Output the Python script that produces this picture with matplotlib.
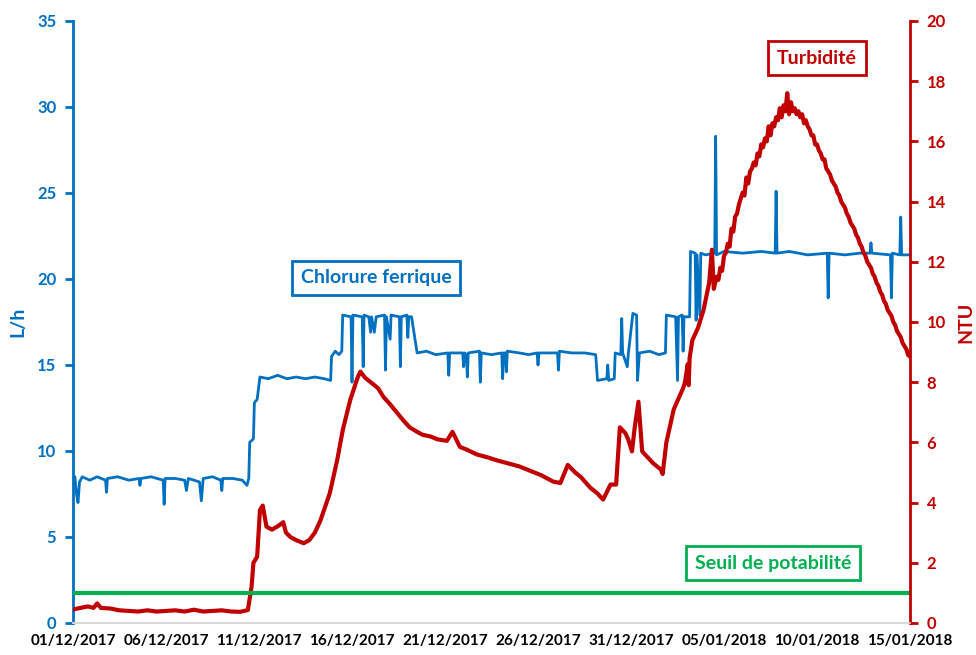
import pandas as pd
import matplotlib
matplotlib.use("Agg")
import matplotlib.pyplot as plt
import matplotlib.dates as mdates

plt.rcParams["font.family"] = ["Lato", "DejaVu Sans"]

BLUE = "#0070C0"
RED = "#C00000"
GREEN = "#00B050"

start = pd.Timestamp("2017-12-01")

# Chlorure ferrique (L/h): days since 01/12/2017 and values
blue_days = [0.00, 0.10, 0.20, 0.27, 0.35, 0.50, 0.90, 1.30, 1.75, 1.80, 1.85, 2.40, 3.00, 3.55, 3.60,
             3.65, 4.20, 4.85, 4.90, 4.95, 5.50, 6.00, 6.10, 6.20, 6.80, 6.90, 7.00, 7.50, 7.95, 8.00,
             8.05, 8.60, 9.10, 9.35, 9.45, 9.50, 9.70, 9.75, 9.90, 10.05, 10.50, 11.00, 11.50, 12.00,
             12.50, 13.00, 13.50, 13.85, 13.90, 14.10, 14.30, 14.45, 14.50, 14.95, 15.00, 15.05, 15.55,
             15.60, 15.65, 15.90, 16.00, 16.05, 16.20, 16.30, 16.75, 16.80, 16.85, 17.05, 17.10, 17.55,
             17.60, 17.65, 17.95, 18.00, 18.05, 18.20, 18.50, 19.00, 19.50, 20.15, 20.20, 20.25, 20.95,
             21.00, 21.05, 21.15, 21.20, 21.25, 21.85, 21.90, 21.95, 22.50, 23.05, 23.10, 23.15, 23.25,
             23.30, 23.35, 24.00, 24.50, 24.95, 25.00, 25.05, 26.05, 26.10, 26.15, 26.80, 27.50, 28.10,
             28.20, 28.70, 28.75, 28.80, 29.10, 29.15, 29.45, 29.50, 29.55, 29.80, 29.85, 30.10, 30.30,
             30.35, 30.45, 31.00, 31.50, 31.85, 31.90, 32.40, 32.50, 32.55, 32.75, 32.80, 32.85, 33.15,
             33.20, 33.45, 33.50, 33.55, 33.70, 33.75, 34.00, 34.50, 34.55, 34.60, 35.00, 36.00, 37.00,
             37.75, 37.80, 37.85, 38.50, 39.50, 40.55, 40.60, 40.65, 41.50, 42.30, 42.85, 42.90, 42.95,
             43.95, 44.00, 44.05, 44.45, 44.50, 44.55, 45.00]
blue_vals = [8.3, 8.5, 7.4, 7.0, 8.2, 8.5, 8.3, 8.5, 8.3, 7.6, 8.4, 8.5, 8.3, 8.4, 8.0,
             8.4, 8.5, 8.3, 6.9, 8.4, 8.4, 8.3, 7.7, 8.4, 8.2, 7.1, 8.4, 8.5, 8.3, 7.7,
             8.4, 8.4, 8.3, 8.0, 8.4, 10.5, 10.7, 12.8, 13.0, 14.3, 14.2, 14.4, 14.2, 14.3,
             14.2, 14.3, 14.2, 14.1, 15.5, 15.8, 15.6, 15.8, 17.9, 17.8, 14.0, 17.9, 17.8,
             14.9, 17.9, 17.8, 16.9, 17.8, 16.9, 17.8, 17.9, 14.7, 17.8, 16.5, 17.9, 17.8,
             14.9, 17.8, 17.9, 16.6, 17.8, 17.8, 15.7, 15.8, 15.6, 15.7, 14.4, 15.7, 15.7,
             14.9, 15.7, 15.6, 14.3, 15.7, 15.8, 14.0, 15.7, 15.6, 15.7, 14.2, 15.7, 15.7,
             14.6, 15.8, 15.7, 15.6, 15.7, 15.0, 15.7, 15.7, 14.7, 15.8, 15.7, 15.7, 15.6,
             14.1, 14.2, 15.0, 14.1, 14.2, 15.7, 15.6, 17.7, 15.7, 14.9, 15.6, 18.0, 17.9,
             14.1, 15.7, 15.8, 15.6, 15.7, 17.9, 17.8, 14.1, 17.8, 17.9, 15.8, 17.8, 17.8,
             21.6, 21.5, 17.6, 21.4, 17.9, 21.5, 21.4, 21.5, 28.3, 21.4, 21.6, 21.5, 21.6,
             21.5, 25.1, 21.5, 21.6, 21.4, 21.5, 18.9, 21.5, 21.4, 21.5, 21.5, 22.1, 21.5,
             21.4, 18.9, 21.5, 21.4, 23.6, 21.4, 21.4]

# Turbidité (NTU): days since 01/12/2017 and values
red_days = [0.0, 0.4, 0.8, 1.1, 1.3, 1.5, 2.0, 2.5, 3.0, 3.5, 4.0, 4.5, 5.0, 5.5, 6.0, 6.5, 7.0, 7.5,
            8.0, 8.5, 9.0, 9.4, 9.6, 9.7, 9.9, 10.05, 10.2, 10.4, 10.7, 11.1, 11.3, 11.45, 11.7, 12.0,
            12.4, 12.7, 13.0, 13.3, 13.8, 14.2, 14.5, 14.9, 15.3, 15.45, 15.7, 16.0, 16.4, 16.7, 17.0,
            17.4, 17.8, 18.1, 18.5, 18.8, 19.2, 19.6, 20.1, 20.4, 20.8, 21.2, 21.7, 22.3, 22.8, 23.4,
            24.0, 24.6, 25.2, 25.8, 26.2, 26.6, 27.0, 27.3, 27.8, 28.2, 28.5, 28.9, 29.2, 29.4, 29.7,
            29.85, 30.05, 30.2, 30.4, 30.5, 30.6, 31.2, 31.6, 31.7, 31.9, 32.3, 32.8, 32.9, 33.05, 33.1,
            33.15, 33.3, 33.6, 33.9, 34.2, 34.35, 34.45,
            34.6, 34.7, 34.8, 34.9, 35.0, 35.1, 35.2, 35.3, 35.4, 35.5, 35.6, 35.7, 35.8, 35.9,
            36.0, 36.1, 36.2, 36.3, 36.4, 36.5, 36.6, 36.7, 36.8, 36.9, 37.0, 37.1, 37.2, 37.3,
            37.4, 37.5, 37.6, 37.7, 37.8, 37.9, 38.0, 38.1, 38.2, 38.3, 38.4, 38.5, 38.6, 38.7,
            38.8, 38.9, 39.0, 39.1, 39.2, 39.3, 39.4, 39.5, 39.6, 39.7, 39.8, 39.9, 40.0, 40.1,
            40.2, 40.3, 40.4, 40.5, 40.6, 40.7, 40.8, 40.9, 41.0, 41.1, 41.2, 41.3, 41.4, 41.5,
            41.6, 41.7, 41.8, 41.9, 42.0, 42.1, 42.2, 42.3, 42.4, 42.5, 42.6, 42.7, 42.8, 42.9,
            43.0, 43.1, 43.2, 43.3, 43.4, 43.5, 43.6, 43.7, 43.8, 43.9, 44.0, 44.1, 44.2, 44.3,
            44.4, 44.5, 44.6, 44.7, 44.8, 44.9, 45.0]
red_vals = [0.45, 0.5, 0.55, 0.5, 0.65, 0.5, 0.48, 0.42, 0.4, 0.38, 0.42, 0.38, 0.4, 0.42, 0.38, 0.44,
            0.38, 0.4, 0.42, 0.38, 0.37, 0.43, 1.2, 2.0, 2.2, 3.75, 3.9, 3.2, 3.1, 3.25, 3.35, 3.0, 2.85,
            2.75, 2.65, 2.75, 3.0, 3.4, 4.3, 5.4, 6.4, 7.4, 8.15, 8.35, 8.15, 8.0, 7.8, 7.5, 7.3, 7.0,
            6.7, 6.5, 6.35, 6.25, 6.2, 6.1, 6.05, 6.35, 5.85, 5.75, 5.6, 5.5, 5.4, 5.3, 5.2, 5.05, 4.9,
            4.7, 4.65, 5.25, 5.0, 4.85, 4.5, 4.3, 4.1, 4.6, 4.6, 6.5, 6.3, 6.1, 5.7, 6.5, 7.35, 6.5,
            5.7, 5.3, 5.1, 4.95, 6.0, 7.1, 7.8, 8.0, 8.6, 7.9, 8.8, 9.4, 9.8, 10.4, 11.3, 12.4, 11.1,
            11.5, 11.4, 11.8, 11.7, 12.2, 12.3, 12.6, 12.5, 13.1, 13.0, 13.5, 13.6, 13.9, 14.1,
            14.3, 14.2, 14.8, 14.6, 15.0, 15.1, 15.3, 15.2, 15.6, 15.5, 15.9, 15.8, 16.1, 16.0,
            16.5, 16.2, 16.6, 16.5, 16.8, 16.7, 17.1, 16.8, 17.2, 17.0, 17.6, 16.9, 17.3, 17.0,
            17.1, 16.9, 17.0, 16.8, 16.9, 16.6, 16.7, 16.5, 16.4, 16.2, 16.2, 15.9, 15.9, 15.7,
            15.6, 15.4, 15.4, 15.1, 15.0, 14.9, 14.7, 14.6, 14.5, 14.3, 14.2, 14.0, 13.9, 13.8,
            13.6, 13.5, 13.3, 13.2, 13.1, 12.9, 12.8, 12.6, 12.5, 12.3, 12.2, 12.0, 11.9, 11.8,
            11.6, 11.5, 11.3, 11.2, 11.0, 10.9, 10.7, 10.6, 10.4, 10.3, 10.2, 10.0, 9.9, 9.7,
            9.6, 9.5, 9.3, 9.2, 9.1, 8.9, 8.85]

seuil_ntu = 1.0
x_ticks_days = list(range(0, 46, 5))

blue_x = start + pd.to_timedelta(blue_days, unit="D")
red_x = start + pd.to_timedelta(red_days, unit="D")

fig = plt.figure(figsize=(9.76, 6.55), dpi=100)
ax = fig.add_axes([0.0748, 0.0489, 0.8576, 0.9191])
ax2 = ax.twinx()

ax.plot(blue_x, blue_vals, color=BLUE, lw=2.0)
ax2.plot(red_x, red_vals, color=RED, lw=3.0)
ax2.axhline(seuil_ntu, color=GREEN, lw=3)

ax.set_xlim(start, start + pd.Timedelta(days=45))
ax.set_ylim(0, 35)
ax2.set_ylim(0, 20)
ax.set_yticks(range(0, 36, 5))
ax2.set_yticks(range(0, 21, 2))
ax.set_xticks(start + pd.to_timedelta(x_ticks_days, unit="D"))
ax.xaxis.set_major_formatter(mdates.DateFormatter("%d/%m/%Y"))

for a in (ax, ax2):
    a.spines["top"].set_visible(False)
    a.spines["bottom"].set_color("#D9D9D9")
    a.spines["bottom"].set_linewidth(1.2)
ax.spines["right"].set_visible(False)
ax2.spines["left"].set_visible(False)
ax.spines["left"].set_color(BLUE)
ax.spines["left"].set_linewidth(2)
ax2.spines["right"].set_color(RED)
ax2.spines["right"].set_linewidth(2)

ax.tick_params(axis="y", colors=BLUE, width=2, length=6, labelsize=12, pad=6)
ax2.tick_params(axis="y", colors=RED, width=2, length=6, labelsize=12, pad=6)
ax.tick_params(axis="x", length=0, labelsize=11, pad=8)
for lbl in ax.get_yticklabels() + ax2.get_yticklabels() + ax.get_xticklabels():
    lbl.set_fontweight("bold")

ax.set_ylabel("L/h", color=BLUE, fontsize=14, fontweight="bold", labelpad=8)
ax2.set_ylabel("NTU", color=RED, fontsize=14, fontweight="bold", labelpad=8)

def boxed(x, y, text, color):
    fig.text(x / 976, 1 - y / 655, text, color=color, fontsize=14, fontweight="bold",
             ha="center", va="center",
             bbox=dict(boxstyle="square,pad=0.45", fc="white", ec=color, lw=2))

boxed(376, 278, "Chlorure ferrique", BLUE)
boxed(817, 58, "Turbidité", RED)
boxed(773, 563, "Seuil de potabilité", GREEN)

plt.savefig("out.png", dpi=100)
